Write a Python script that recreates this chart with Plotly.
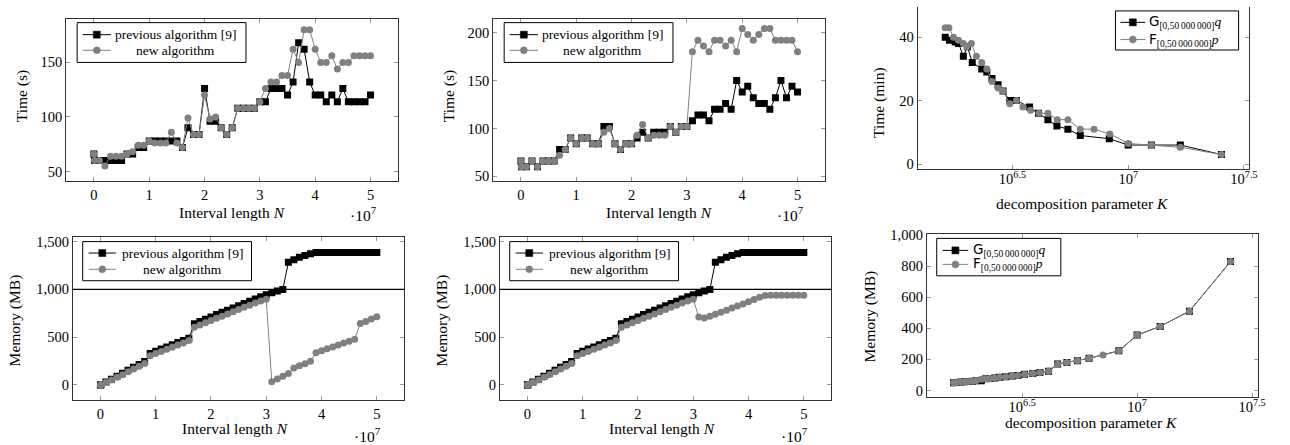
import plotly.graph_objects as go

# interval length N, in millions
N = [0, 0.1, 1, 2, 3, 4, 5, 6, 7, 8, 9, 10, 11, 12, 13, 14, 15, 16, 17, 18, 19, 20,
     21, 22, 23, 24, 25, 26, 27, 28, 29, 30, 31, 32, 33, 34, 35, 36, 37, 38, 39, 40,
     41, 42, 43, 44, 45, 46, 47, 48, 49, 50]

# time (s), left column
time_prev_a = [66, 60, 60, 60, 60, 60, 60, 66, 66, 72, 72, 78, 78, 78, 78, 78, 78, 72, 90, 84, 84, 126,
               96, 96, 90, 84, 90, 108, 108, 108, 108, 114, 114, 126, 126, 126, 120, 132, 168, 162, 132, 120,
               120, 114, 120, 114, 126, 114, 114, 114, 114, 120]
time_new_a = [66, 60, 60, 55, 64, 64, 64, 66, 68, 74, 74, 78, 76, 76, 76, 86, 76, 72, 99, 84, 84, 120,
              98, 100, 90, 84, 90, 108, 108, 108, 108, 114, 126, 132, 132, 138, 138, 162, 150, 180, 180, 162,
              150, 150, 156, 144, 150, 150, 156, 156, 156, 156]

# time (s), middle column
time_prev_b = [66, 60, 60, 66, 60, 66, 66, 66, 78, 78, 90, 84, 90, 90, 84, 84, 102, 102, 84, 78, 84, 84,
               90, 96, 90, 96, 96, 96, 102, 96, 102, 102, 108, 114, 114, 108, 120, 120, 126, 120, 150, 138,
               144, 132, 126, 126, 120, 132, 150, 132, 144, 138]
time_new_b = [66, 60, 60, 66, 60, 66, 66, 66, 72, 78, 90, 84, 90, 90, 84, 84, 96, 100, 84, 78, 84, 84,
              93, 104, 90, 93, 93, 93, 102, 96, 102, 102, 180, 192, 186, 180, 192, 192, 186, 192, 180, 204,
              198, 192, 198, 204, 204, 192, 192, 192, 192, 180]

# memory (MB)
mem_prev = [0, 3, 30, 60, 92, 122, 155, 185, 215, 245, 330, 352, 375, 398, 420, 443, 465, 490, 640, 664, 688, 712,
            736, 760, 783, 806, 830, 853, 876, 900, 922, 945, 965, 982, 1000, 1285, 1310, 1335, 1355, 1372, 1385, 1385,
            1385, 1385, 1385, 1385, 1385, 1385, 1385, 1385, 1385, 1385]
mem_new_a = [0, 2, 25, 52, 80, 108, 138, 166, 195, 225, 305, 328, 350, 373, 395, 418, 440, 465, 605, 628, 651, 674,
             697, 720, 743, 766, 789, 812, 835, 857, 878, 897, 34, 62, 92, 120, 178, 200, 222, 248, 338, 358,
             378, 398, 418, 438, 458, 478, 642, 665, 690, 715]
mem_new_b = [0, 2, 25, 52, 80, 108, 138, 166, 195, 225, 305, 328, 350, 373, 395, 418, 440, 465, 605, 628, 651, 674,
             697, 720, 743, 766, 789, 812, 835, 857, 878, 897, 710, 700, 718, 740, 760, 782, 805, 825, 848, 870,
             895, 918, 935, 938, 938, 938, 938, 938, 938, 938]

# decomposition parameter K, time (min)
K_G = [1.62e6, 1.69e6, 1.79e6, 1.85e6, 1.94e6, 2.02e6, 2.12e6, 2.33e6, 2.45e6, 2.58e6, 2.74e6, 2.88e6, 3.08e6,
       3.29e6, 3.75e6, 4.10e6, 4.50e6, 4.92e6, 5.49e6, 6.21e6, 8.29e6, 1.0e7, 1.26e7, 1.68e7, 2.53e7]
tmin_G = [40, 39, 38.5, 38, 34, 37, 32, 30, 29, 27, 25, 23, 20, 20, 18, 16, 14, 12, 11, 9, 8, 6, 6, 6, 3]
K_F = [1.62e6, 1.68e6, 1.76e6, 1.85e6, 1.94e6, 2.01e6, 2.10e6, 2.21e6, 2.33e6, 2.45e6, 2.58e6, 2.74e6, 2.88e6,
       3.08e6, 3.29e6, 3.51e6, 3.79e6, 4.12e6, 4.50e6, 4.94e6, 5.49e6, 6.21e6, 7.12e6, 8.33e6, 1.0e7, 1.26e7,
       1.68e7, 2.53e7]
tmin_F = [43, 43, 40, 39, 38, 37, 38, 34, 32, 30, 26, 24, 23, 19, 20, 18, 17, 16, 16, 14, 14, 11, 11, 9.5, 6.5,
          6, 5.3, 3]

# decomposition parameter K, memory (MB)
K_mem = [1.59e6, 1.64e6, 1.71e6, 1.78e6, 1.84e6, 1.92e6, 1.99e6, 2.10e6, 2.20e6, 2.29e6, 2.40e6, 2.52e6, 2.68e6,
         2.86e6, 3.03e6, 3.24e6, 3.52e6, 3.78e6, 4.12e6, 4.51e6, 4.95e6, 5.50e6, 6.18e6, 7.11e6, 8.33e6, 1.0e7,
         1.26e7, 1.69e7, 2.55e7]
mem_G = [50, 52, 54, 56, 58, 60, 62, 62, 75, 77, 81, 85, 89, 93, 97, 104, 110, 116, 124, 170, 180, 191, 207,
         None, 255, 356, 412, 510, 829]
mem_F = [50, 52, 54, 56, 58, 60, 62, 73, 75, 77, 81, 85, 89, 93, 97, 104, 110, 116, 124, 170, 180, 191, 207,
         228, 255, 356, 412, 510, 829]

W, H = 1290, 445
SERIF = "Liberation Serif"
GRAY = "#808080"
PREV = "previous algorithm [9]"
NEW = "new algorithm"
G_NAME = '<span style="font-family:DejaVu Sans">G</span><sub>[0,50\u2009000\u2009000]</sub><i>q</i>'
F_NAME = '<span style="font-family:DejaVu Sans">F</span><sub>[0,50\u2009000\u2009000]</sub><i>p</i>'


def px(x, y):
    return x / W, 1 - y / H


def black_trace(x, y, idx):
    return go.Scatter(x=x, y=y, mode="lines+markers", xaxis="x%s" % idx, yaxis="y%s" % idx,
                      line=dict(color="black", width=1), connectgaps=True,
                      marker=dict(symbol="square", size=7, color="black"))


def gray_trace(x, y, idx):
    return go.Scatter(x=x, y=y, mode="lines+markers", xaxis="x%s" % idx, yaxis="y%s" % idx,
                      line=dict(color=GRAY, width=1),
                      marker=dict(symbol="circle", size=7, color=GRAY))


fig = go.Figure()
fig.add_trace(black_trace(N, time_prev_a, ""))
fig.add_trace(gray_trace(N, time_new_a, ""))
fig.add_trace(black_trace(N, time_prev_b, "2"))
fig.add_trace(gray_trace(N, time_new_b, "2"))
fig.add_trace(black_trace(K_G, tmin_G, "3"))
fig.add_trace(gray_trace(K_F, tmin_F, "3"))
fig.add_trace(black_trace(N, mem_prev, "4"))
fig.add_trace(gray_trace(N, mem_new_a, "4"))
fig.add_trace(black_trace(N, mem_prev, "5"))
fig.add_trace(gray_trace(N, mem_new_b, "5"))
fig.add_trace(black_trace(K_mem, mem_G, "6"))
fig.add_trace(gray_trace(K_mem, mem_F, "6"))

axis_style = dict(showline=True, linecolor="#333", linewidth=1, mirror="ticks", ticks="inside",
                  ticklen=4, tickcolor="#999", showgrid=False, zeroline=False,
                  tickfont=dict(family=SERIF, size=14.5, color="black"))
n_ticks = dict(tickmode="array", tickvals=[0, 10, 20, 30, 40, 50], ticktext=["0", "1", "2", "3", "4", "5"])
k_ticks = dict(type="log", tickmode="array", tickvals=[10 ** 6.5, 1e7, 10 ** 7.5],
               ticktext=["10<sup>6.5</sup>", "10<sup>7</sup>", "10<sup>7.5</sup>"], ticklabelstandoff=-3)


def dom(x0, x1, y0, y1):
    return [x0 / W, x1 / W], [1 - y1 / H, 1 - y0 / H]


panels = {
    "": dom(66.7, 401, 12.7, 178.3),
    "2": dom(496.7, 831, 12.7, 178.3),
    "3": dom(924, 1257.3, 0, 165.7),
    "4": dom(73.3, 407.3, 235, 402.3),
    "5": dom(503.3, 837.3, 235, 402.3),
    "6": dom(933.3, 1267.3, 232.7, 399),
}

layout = dict(width=W, height=H, margin=dict(l=0, r=0, t=0, b=0), plot_bgcolor="white",
              paper_bgcolor="white", showlegend=False)
for idx, (xd, yd) in panels.items():
    xa = dict(axis_style, domain=xd, anchor="y%s" % idx)
    ya = dict(axis_style, domain=yd, anchor="x%s" % idx)
    if idx in ("3", "6"):
        xa.update(k_ticks)
    else:
        xa.update(n_ticks)
        xa["range"] = [-5, 55]
    layout["xaxis%s" % idx] = xa
    layout["yaxis%s" % idx] = ya

layout["yaxis"].update(range=[41, 189.4], tickvals=[50, 100, 150])
layout["yaxis2"].update(range=[44.9, 213.6], tickvals=[50, 100, 150, 200])
layout["xaxis3"].update(range=[6.09, 7.52], mirror=False)
layout["yaxis3"].update(range=[-1.54, 49.5], tickvals=[0, 20, 40])
layout["yaxis4"].update(range=[-160, 1551], tickvals=[0, 500, 1000, 1500], tickformat=",d")
layout["yaxis5"].update(range=[-160, 1551], tickvals=[0, 500, 1000, 1500], tickformat=",d")
layout["xaxis6"].update(range=[6.085, 7.528])
layout["yaxis6"].update(range=[-42, 1003], tickvals=[0, 200, 400, 600, 800, 1000], tickformat=",d")

fig.update_layout(**layout)

# 1000 MB limit line
for idx in ("4", "5"):
    fig.add_shape(type="line", xref="x%s domain" % idx, yref="y%s" % idx, x0=0, x1=1, y0=1000, y1=1000,
                  line=dict(color="black", width=1.3))


# legends drawn by hand so their boxes match the pgfplots ones
def add_legend(box, rows, line_x, text_x, anchor):
    x0, y0 = px(box[0], box[1])
    x1, y1 = px(box[2], box[3])
    fig.add_shape(type="rect", xref="paper", yref="paper", x0=x0, x1=x1, y0=y1, y1=y0,
                  line=dict(color="black", width=1), fillcolor="white", layer="above")
    for ry, symbol, color, text in rows:
        la, yy = px(line_x[0], ry)
        lb, _ = px(line_x[1], ry)
        mx, _ = px((line_x[0] + line_x[1]) / 2, ry)
        fig.add_shape(type="line", xref="paper", yref="paper", x0=la, x1=lb, y0=yy, y1=yy,
                      line=dict(color=color, width=1), layer="above")
        fig.add_shape(type=symbol, xref="paper", yref="paper", xsizemode="pixel", ysizemode="pixel",
                      xanchor=mx, yanchor=yy, x0=-3.5, x1=3.5, y0=-3.5, y1=3.5,
                      fillcolor=color, line=dict(color=color, width=0.5), layer="above")
        tx, _ = px(text_x, ry)
        fig.add_annotation(text=text, x=tx, y=yy, xref="paper", yref="paper", showarrow=False,
                           xanchor=anchor, yanchor="middle", font=dict(family=SERIF, size=13.5, color="black"))


for dx in (0, 430):
    add_legend((77.7 + dx, 16, 247.7 + dx, 56.7),
               [(28.3, "rect", "black", PREV), (44.3, "circle", GRAY, NEW)],
               (83.3 + dx, 111.7 + dx), 177 + dx, "center")
    add_legend((83.3 + dx, 240, 253.3 + dx, 280),
               [(251.7, "rect", "black", PREV), (268.3, "circle", GRAY, NEW)],
               (89.3 + dx, 116.7 + dx), 183.3 + dx, "center")
add_legend((1123.3, 4, 1247.3, 44),
           [(15.7, "rect", "black", G_NAME), (33.3, "circle", GRAY, F_NAME)],
           (1128.3, 1153.3), 1155, "left")
add_legend((943.3, 236.7, 1068.3, 275),
           [(249, "rect", "black", G_NAME), (263.3, "circle", GRAY, F_NAME)],
           (949.3, 975), 978.3, "left")

title_font = dict(family=SERIF, size=15.5, color="black")
labels = [
    ("Interval length <i>N</i>", 234, 210, 0), ("·10<sup>7</sup>", 366, 212, 0), ("Time (s)", 21.7, 91.7, -90),
    ("Interval length <i>N</i>", 664, 210, 0), ("·10<sup>7</sup>", 796, 212, 0), ("Time (s)", 451.7, 91.7, -90),
    ("decomposition parameter <i>K</i>", 1090, 201, 0), ("Time (min)", 885, 98.3, -90),
    ("Interval length <i>N</i>", 237.5, 431.7, 0), ("·10<sup>7</sup>", 370, 438, 0), ("Memory (MB)", 16, 320.7, -90),
    ("Interval length <i>N</i>", 667.5, 431.7, 0), ("·10<sup>7</sup>", 800, 438, 0), ("Memory (MB)", 446, 320.7, -90),
    ("decomposition parameter <i>K</i>", 1099, 425, 0), ("Memory (MB)", 876, 316.7, -90),
]
for text, lx, ly, angle in labels:
    x, y = px(lx, ly)
    fig.add_annotation(text=text, x=x, y=y, xref="paper", yref="paper", showarrow=False,
                       xanchor="center", yanchor="middle", textangle=angle, font=title_font)

fig.write_html("out.html", config={"displayModeBar": False},
               post_script="document.body.style.margin='0';document.body.style.padding='0';")
